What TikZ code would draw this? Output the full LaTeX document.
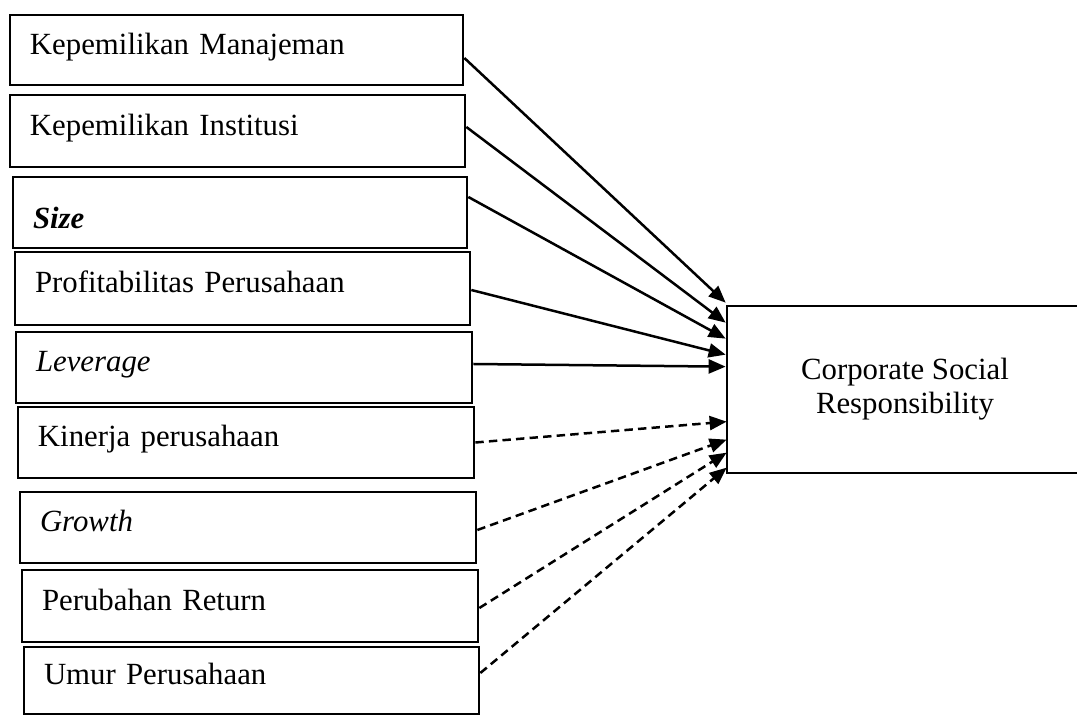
\documentclass[tikz,border=0pt]{standalone}
\usepackage{fontspec}
\setmainfont{Liberation Serif}
\usetikzlibrary{arrows.meta,calc}
\begin{document}
\begin{tikzpicture}[x=0.5pt,y=-0.5pt,
  varbox/.style={draw, line width=1.35pt, minimum height=#1, inner xsep=0pt, inner ysep=0pt,
     anchor=center, font=\fontsize{15.4}{17}\selectfont},
  link/.style={line width=1.25pt, -{Triangle[length=8.5pt,width=7pt]}},
  dlink/.style={link, dash pattern=on 4.2pt off 2.6pt}]
\useasboundingbox (0,0) rectangle (1077,715);
% left boxes: name, centre x, centre y, width, text width, height, text
\newcommand{\varnode}[7]{%
  \node[varbox=#6, minimum width=#4, text width=#5, align=left,
        text height=0.7em, text depth=0.25em] (#1) at (#2,#3) {#7};}
\varnode{b1}{236.5}{50}{226.5pt}{206.5pt}{35pt}{Kepemilikan Manajeman}
\varnode{b2}{237.5}{131}{227.5pt}{207.5pt}{36pt}{Kepemilikan Institusi}
\varnode{b3}{240}{212.5}{227pt}{207pt}{35.5pt}{\raisebox{-6pt}{\textbf{\textit{Size}}}}
\varnode{b4}{242.5}{288.5}{227.5pt}{207.5pt}{36.5pt}{Profitabilitas Perusahaan}
\varnode{b5}{244}{367.5}{228pt}{208pt}{35.5pt}{\textit{Leverage}}
\varnode{b6}{246}{442.5}{228pt}{208pt}{35.5pt}{Kinerja perusahaan}
\varnode{b7}{248}{527.5}{228pt}{208pt}{35.5pt}{\textit{Growth}}
\varnode{b8}{250}{606}{228pt}{208pt}{36pt}{Perubahan Return}
\varnode{b9}{251.5}{680.5}{227.5pt}{207.5pt}{33.5pt}{Umur Perusahaan}
% dependent variable (right side runs off the page)
\node[varbox=83.5pt, minimum width=178pt, align=center] (csr) at (905,389.5)
  {Corporate Social\\Responsibility};
% arrow targets on the left side of csr
\coordinate (t1) at ([yshift=1pt]csr.north west);
\coordinate (t2) at ([yshift=-9pt]csr.north west);
\coordinate (t3) at ([yshift=-17pt]csr.north west);
\coordinate (t4) at ([yshift=-25pt]csr.north west);
\coordinate (t5) at ([yshift=-31pt]csr.north west);
\coordinate (t6) at ([yshift=-58.5pt,xshift=0.5pt]csr.north west);
\coordinate (t7) at ([yshift=-67.5pt,xshift=0.5pt]csr.north west);
\coordinate (t8) at ([yshift=-74pt,xshift=0.5pt]csr.north west);
\coordinate (t9) at ([yshift=-81.5pt,xshift=0.5pt]csr.north west);
% connectors
\draw[link] ([yshift=-4pt]b1.east) -- (t1);
\draw[link] ([yshift=2pt]b2.east) -- (t2);
\draw[link] ([yshift=7.75pt]b3.east) -- (t3);
\draw[link] ([yshift=-0.75pt]b4.east) -- (t4);
\draw[link] ([yshift=1.75pt]b5.east) -- (t5);
\draw[dlink] (b6.east) -- (t6);
\draw[dlink] ([yshift=-1.25pt]b7.east) -- (t7);
\draw[dlink] ([yshift=-1pt]b8.east) -- (t8);
\draw[dlink] ([yshift=3.75pt]b9.east) -- (t9);
\end{tikzpicture}
\end{document}
